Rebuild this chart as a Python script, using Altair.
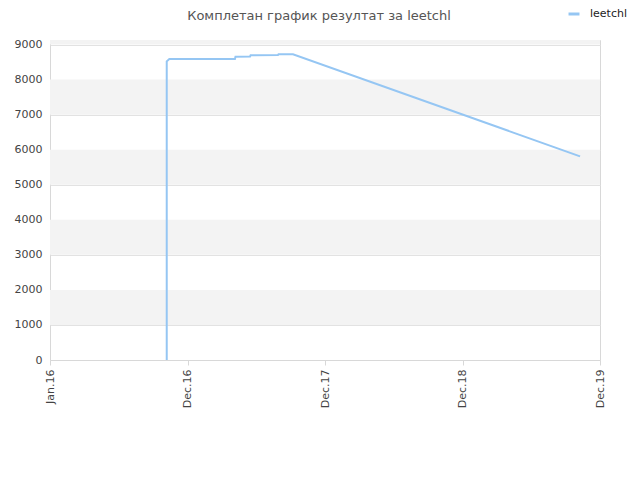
import altair as alt
import pandas as pd

# x positions in axis-tick units (0 = Jan.16, 1 = Dec.16, 2 = Dec.17, 3 = Dec.18, 4 = Dec.19)
x_vals = [0.849, 0.849, 0.868, 1.345, 1.349, 1.455, 1.459, 1.658, 1.662, 1.767, 3.855]
y_vals = [0, 8520, 8590, 8590, 8655, 8660, 8695, 8700, 8723, 8725, 5810]
series_name = "leetchl"

tick_pos = [0, 1, 2, 3, 4]
tick_labels = ["Jan.16", "Dec.16", "Dec.17", "Dec.18", "Dec.19"]
y_ticks = [0, 1000, 2000, 3000, 4000, 5000, 6000, 7000, 8000, 9000]

band_lo = [1000, 3000, 5000, 7000, 9000]
band_hi = [2000, 4000, 6000, 8000, 9130]

title_text = "Комплетан график резултат за leetchl"

df = pd.DataFrame({"x": x_vals, "y": y_vals, "series": series_name, "order": range(len(x_vals))})
bands = pd.DataFrame({"lo": band_lo, "hi": band_hi})

label_expr = "[" + ",".join(f"'{t}'" for t in tick_labels) + "][round(datum.value)]"

xscale = alt.Scale(domain=[0, 4], nice=False, zero=False)
yscale = alt.Scale(domain=[0, 9130], nice=False)

y_axis = alt.Axis(values=y_ticks, format="d", title=None, grid=True,
                  gridColor="#e2e2e2", domain=False, ticks=False, labelOverlap=False,
                  labelColor="#444", labelFontSize=11, labelPadding=8)

band_layer = alt.Chart(bands).mark_rect(color="#f3f3f3").encode(
    x=alt.value(0),
    x2=alt.value(550),
    y=alt.Y("lo:Q", scale=yscale, axis=y_axis),
    y2="hi:Q",
)

line_layer = alt.Chart(df).mark_line(strokeWidth=2, interpolate="linear").encode(
    x=alt.X("x:Q", scale=xscale,
            axis=alt.Axis(values=tick_pos, labelExpr=label_expr, labelAngle=-90,
                          title=None, grid=False, domainColor="#d8d8d8", tickColor="#d8d8d8",
                          tickSize=5, labelColor="#444", labelFontSize=11, labelPadding=4,
                          labelAlign="right", labelBaseline="middle", labelOverlap=False)),
    y=alt.Y("y:Q", scale=yscale, axis=y_axis),
    order="order:Q",
    color=alt.Color("series:N",
                    scale=alt.Scale(domain=[series_name], range=["#95c6f3"]),
                    legend=alt.Legend(title=None, orient="none", legendX=517, legendY=-33,
                                      symbolType="stroke", symbolSize=120, symbolStrokeWidth=3,
                                      labelOffset=9,
                                      labelFontSize=11, labelColor="#222", labelFont="DejaVu Sans")),
)

chart = alt.layer(band_layer, line_layer).properties(
    width=550,
    height=320,
    autosize=alt.AutoSizeParams(type="none"),
    padding={"left": 42, "top": 32, "right": 32, "bottom": 72},
    title=alt.TitleParams(title_text, anchor="middle", fontSize=13, fontWeight="normal",
                          color="#555", font="DejaVu Sans", offset=-16, dx=-6),
).configure_view(stroke="#d8d8d8", strokeWidth=1).configure_axis(
    labelFont="DejaVu Sans"
)

chart.save("out.html", embed_options={"renderer": "svg", "actions": False})
